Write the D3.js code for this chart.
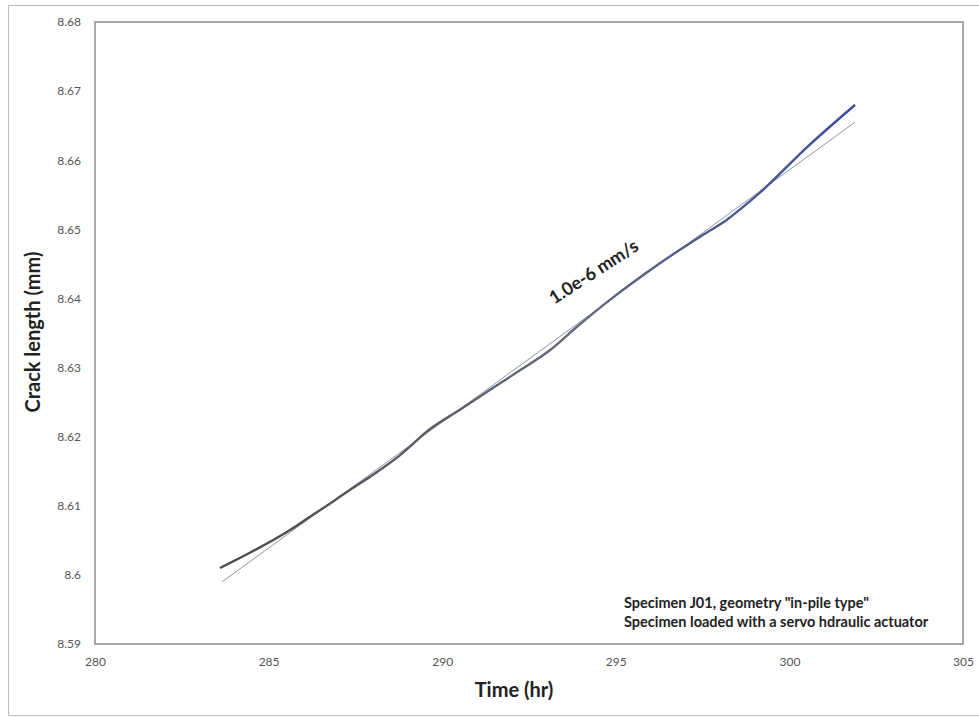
<!DOCTYPE html>
<html lang="en">
<head>
<meta charset="UTF-8">
<title>Crack length vs time</title>
<script src="https://d3js.org/d3.v7.min.js"></script>
<style>
    body { margin: 0; background: #fff; font-family: Lato, "Open Sans", sans-serif; }
    .tick text { fill: #555; font-size: 12px; }
    .axis-title { font-weight: bold; font-size: 20px; fill: #222; }
    .slope { font-weight: bold; font-size: 18px; fill: #222; }
    .note { font-weight: bold; font-size: 14.5px; fill: #222; }
</style>
</head>
<body>
<svg width="979" height="717"></svg>
<script>
    const timeHr = [283.60, 284.46, 285.62, 286.19, 286.91, 287.34, 288.01, 288.78, 289.65, 290.51,
                    291.38, 292.24, 293.10, 293.88, 294.83, 296.27, 297.42, 298.20, 299.15, 300.51, 301.89];
    const crackMm = [8.6010, 8.6032, 8.6065, 8.6084, 8.6108, 8.6123, 8.6145, 8.6173, 8.6211, 8.6239,
                     8.6268, 8.6296, 8.6325, 8.6359, 8.6398, 8.6451, 8.6489, 8.6514, 8.6553, 8.6619, 8.6680];

    // linear fit, 1.0e-6 mm/s
    const fitTime = [283.66, 301.89];
    const fitMm = [8.5990, 8.6655];

    const xTicks = [280, 285, 290, 295, 300, 305];
    const yTicks = [8.59, 8.6, 8.61, 8.62, 8.63, 8.64, 8.65, 8.66, 8.67, 8.68];

    const svg = d3.select("svg");
    const margin = {left: 95, top: 22, right: 963, bottom: 644};

    const x = d3.scaleLinear().domain([280, 305]).range([margin.left, margin.right]);
    const y = d3.scaleLinear().domain([8.59, 8.68]).range([margin.bottom, margin.top]);

    // outer chart frame
    svg.append("path")
        .attr("d", "M979,5.5 H8.5 V715.5 H979")
        .attr("fill", "none")
        .attr("stroke", "#bdbdbd")
        .attr("stroke-width", 1);

    // plot area border
    svg.append("rect")
        .attr("x", margin.left).attr("y", margin.top)
        .attr("width", margin.right - margin.left)
        .attr("height", margin.bottom - margin.top)
        .attr("fill", "none")
        .attr("stroke", "#8c8c8c")
        .attr("stroke-width", 1.5);

    // axes (labels only, no tick marks)
    svg.append("g")
        .attr("transform", `translate(0,${margin.bottom})`)
        .call(d3.axisBottom(x).tickValues(xTicks).tickSize(0).tickPadding(13))
        .call(g => g.select(".domain").remove());

    svg.append("g")
        .attr("transform", `translate(${margin.left},0)`)
        .call(d3.axisLeft(y).tickValues(yTicks).tickSize(0).tickPadding(14)
            .tickFormat(d => String(+d.toFixed(2))))
        .call(g => g.select(".domain").remove());

    svg.selectAll(".tick text").attr("font-family", "Lato, sans-serif");

    // gradient: grey at the bottom, blue at the top end
    const grad = svg.append("defs").append("linearGradient")
        .attr("id", "dataGrad")
        .attr("gradientUnits", "userSpaceOnUse")
        .attr("x1", x(timeHr[0])).attr("x2", x(timeHr[timeHr.length - 1]))
        .attr("y1", 0).attr("y2", 0);
    grad.append("stop").attr("offset", 0).attr("stop-color", "#4a4a4a");
    grad.append("stop").attr("offset", 0.55).attr("stop-color", "#66697a");
    grad.append("stop").attr("offset", 1).attr("stop-color", "#3e4c9c");

    const line = d3.line().curve(d3.curveMonotoneX);

    // fit line (thin)
    svg.append("path")
        .attr("d", line(fitTime.map((t, i) => [x(t), y(fitMm[i])])))
        .attr("fill", "none")
        .attr("stroke", "#8e93a8")
        .attr("stroke-width", 1);

    // measured data
    svg.append("path")
        .attr("d", line(timeHr.map((t, i) => [x(t), y(crackMm[i])])))
        .attr("fill", "none")
        .attr("stroke", "url(#dataGrad)")
        .attr("stroke-width", 2.4)
        .attr("stroke-linejoin", "round");

    // slope annotation
    svg.append("text")
        .attr("class", "slope")
        .attr("transform", "translate(597,277) rotate(-33)")
        .attr("text-anchor", "middle")
        .text("1.0e-6 mm/s");

    // axis titles
    svg.append("text")
        .attr("class", "axis-title")
        .attr("x", 514)
        .attr("y", 697)
        .attr("text-anchor", "middle")
        .text("Time (hr)");

    svg.append("text")
        .attr("class", "axis-title")
        .attr("transform", "translate(40,332) rotate(-90)")
        .attr("text-anchor", "middle")
        .text("Crack length (mm)");

    // specimen note
    const notes = ['Specimen J01, geometry "in-pile type"', "Specimen loaded with a servo hdraulic actuator"];
    svg.selectAll(".note")
        .data(notes)
        .enter().append("text")
        .attr("class", "note")
        .attr("x", 624)
        .attr("y", (d, i) => 608 + i * 19)
        .text(d => d);
</script>
</body>
</html>
